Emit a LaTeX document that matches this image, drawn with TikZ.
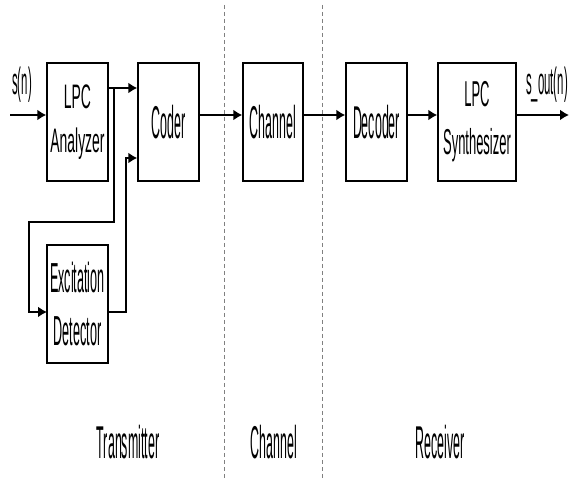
\documentclass[tikz,border=0pt]{standalone}
\usepackage{fontspec}
\setmainfont{Liberation Sans}
\usetikzlibrary{arrows.meta}

\tikzset{
  blk/.style={draw, line width=1.4pt, minimum height=118pt, inner sep=0pt, align=center},
  wire/.style={line width=2pt},
  arr/.style={wire, -{Latex[length=9pt,width=11pt]}},
  bigtxt/.style={font=\fontsize{46}{53}\selectfont\addfontfeature{FakeStretch=0.27}},
  anatxt/.style={font=\fontsize{34}{44}\selectfont\addfontfeature{FakeStretch=0.41}},
  syntxt/.style={font=\fontsize{36}{48}\selectfont\addfontfeature{FakeStretch=0.36}},
  dettxt/.style={font=\fontsize{42}{53}\selectfont\addfontfeature{FakeStretch=0.30}},
  sigtxt/.style={font=\fontsize{38}{44}\selectfont\addfontfeature{FakeStretch=0.30}},
  sep/.style={gray, line width=1pt, dash pattern=on 4pt off 3pt},
}

\begin{document}
\begin{tikzpicture}[x=1pt, y=1pt]
  \useasboundingbox (0,0) rectangle (571,479);
  % ------- section separators -------
  \draw[sep] (224,474) -- (224,0);
  \draw[sep] (322,474) -- (322,0);
  % ------- blocks -------
  \node[blk, bigtxt, minimum width=61pt] (coder) at (168.5,357) {Coder};
  \node[blk, anatxt, minimum width=61pt] (ana) at (77.5,357) {LPC\\Analyzer};
  \node[blk, dettxt, minimum width=61pt] (det) at (77.5,175) {Excitation\\Detector};
  \node[blk, bigtxt, minimum width=60pt] (chan) at (273,357) {Channel};
  \node[blk, bigtxt, minimum width=61pt] (dec) at (376.5,357) {Decoder};
  \node[blk, syntxt, minimum width=78pt] (syn) at (477,357) {LPC\\Synthesizer};
  % ------- signals -------
  \coordinate (in) at (10,364);
  \coordinate (out) at (569,364);
  \coordinate (br) at (114,391);
  \coordinate (lp) at (29,257);
  \coordinate (dtin) at (47,167);
  \coordinate (rt) at (126,321);
  \node[sigtxt] (sn) at (22,394) {s(n)};
  \node[sigtxt] (sout) at (547,394) {s\_out(n)};
  \draw[arr] (in) -- (in -| ana.west);
  \draw[arr] (ana.east |- br) -- (coder.west |- br);
  \draw[arr] (br) |- (lp) |- (dtin);
  \draw[arr] (det.east |- dtin) -| (rt) -- (coder.west |- rt);
  \draw[arr] (coder.east |- in) -- (chan.west |- in);
  \draw[arr] (chan.east |- in) -- (dec.west |- in);
  \draw[arr] (dec.east |- in) -- (syn.west |- in);
  \draw[arr] (syn.east |- out) -- (out);
  % ------- section names -------
  \node[bigtxt] (tx) at (128,37) {Transmitter};
  \node[bigtxt] (chl) at (274,37) {Channel};
  \node[bigtxt] (rx) at (440,37) {Receiver};
\end{tikzpicture}
\end{document}
